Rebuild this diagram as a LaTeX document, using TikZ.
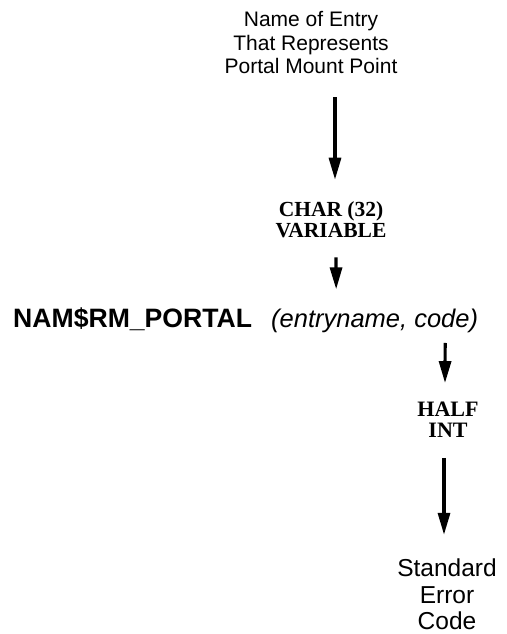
\documentclass[tikz,border=0pt]{standalone}
\usepackage{fontspec}
\usetikzlibrary{arrows.meta}
\newfontfamily\lsans{Liberation Sans}
\newfontfamily\lserif{Liberation Serif}

\tikzset{
  label sans/.style={inner sep=0pt, align=center, font=\lsans\fontsize{21}{23.5}\selectfont},
  label serif/.style={inner sep=0pt, align=center, font=\lserif\bfseries\fontsize{21.5}{21}\selectfont},
  call text/.style={inner sep=0pt, anchor=base west, font=\lsans\fontsize{25.5}{28}\selectfont},
  flow/.style={line width=3.2pt, -{Triangle[length=22pt,width=12pt]}},
}

\begin{document}
\begin{tikzpicture}[x=1pt,y=-1pt]
  \useasboundingbox (0,0) rectangle (506,634);

  % labels
  \node[label sans] (entry) at (311,43) {Name of Entry\\That Represents\\Portal Mount Point};
  \node[label serif] (chartype) at (331,220) {CHAR (32)\\VARIABLE};
  \node[call text, font=\lsans\bfseries\fontsize{26.6}{28}\selectfont] (call) at (13,327) {NAM\$RM\_PORTAL};
  \node[call text] (args) at (271,327) {\itshape (entryname, code)};
  \node[label serif, font=\lserif\bfseries\fontsize{22}{21}\selectfont] (halfint) at (448,420) {HALF\\INT};
  \node[label sans, font=\lsans\fontsize{24.5}{26.5}\selectfont] (stderr) at (447,594.5) {Standard\\Error\\Code};

  % connectors
  \draw[flow] ([xshift=24pt,yshift=-23pt]entry.south) -- ([xshift=4pt,yshift=22pt]chartype.north);
  \draw[flow] ([xshift=5pt,yshift=-19pt]chartype.south) -- ([xshift=-38.5pt,yshift=19pt]args.north);
  \draw[flow] ([xshift=70.5pt,yshift=-10.5pt]args.south) -- ([xshift=-3pt,yshift=19pt]halfint.north);
  \draw[flow] ([xshift=-4pt,yshift=-20pt]halfint.south) -- ([xshift=-3pt,yshift=24pt]stderr.north);
\end{tikzpicture}
\end{document}
